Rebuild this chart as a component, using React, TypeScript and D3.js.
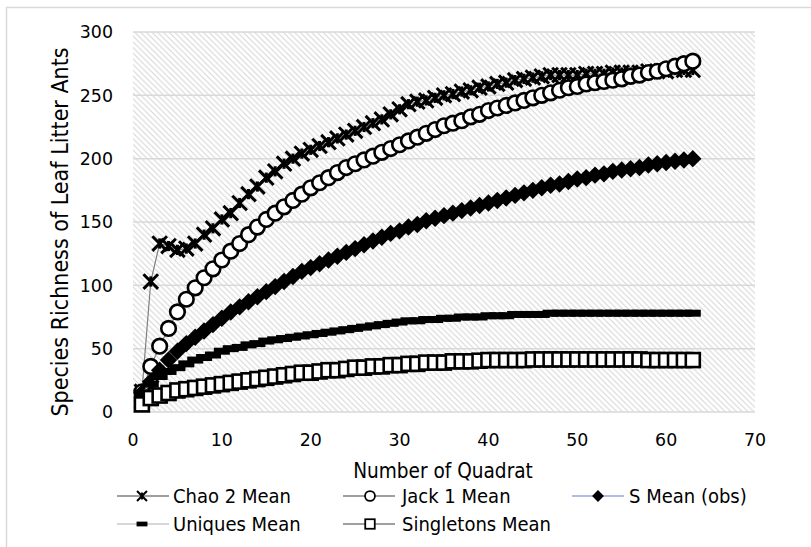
import * as d3 from 'd3';

const quadrats = d3.range(1, 64);

const chao2 = [16, 103, 133, 131, 128, 129, 133, 140, 145, 152, 157, 165, 172, 178, 185, 190, 196, 200, 204, 207,
  210, 213, 216, 219, 222, 225, 228, 231, 235, 239, 243, 245, 246, 248, 250, 251, 253, 254, 256, 257,
  259, 260, 262, 263, 264, 265, 266, 266, 266, 266, 267, 267, 267, 268, 268, 268, 268, 269, 269, 269,
  270, 270, 270];

const jack1 = [16, 36, 52, 66, 79, 89, 98, 106, 113, 120, 127, 133, 140, 146, 152, 157, 162, 167, 172, 177,
  181, 185, 189, 193, 196, 199, 202, 205, 208, 211, 214, 217, 220, 223, 226, 228, 230, 233, 235, 238,
  240, 242, 244, 246, 248, 250, 252, 254, 256, 257, 259, 260, 261, 262, 263, 265, 266, 268, 269, 271,
  273, 275, 277];

const sObs = [15, 24, 33, 41, 48, 54, 59, 64, 69, 74, 79, 83, 87, 91, 95, 99, 103, 107, 111, 114,
  117, 120, 123, 126, 129, 132, 135, 138, 141, 143, 146, 148, 151, 153, 155, 157, 159, 161, 163, 165,
  167, 169, 171, 173, 175, 177, 179, 180, 182, 184, 185, 187, 188, 190, 191, 192, 193, 195, 196, 197,
  198, 199, 200];

const uniques = [15, 22, 28, 32, 35, 38, 41, 43, 45, 48, 50, 51, 53, 54, 56, 57, 58, 59, 60, 61,
  62, 63, 64, 65, 66, 67, 68, 69, 70, 71, 72, 72, 73, 73, 74, 74, 75, 75, 75, 76,
  76, 76, 77, 77, 77, 77, 78, 78, 78, 78, 78, 78, 78, 78, 78, 78, 78, 78, 78, 78,
  78, 78, 78];

const singletons = [6, 11, 13, 15, 17, 18, 19, 20, 21, 22, 23, 24, 25, 26, 27, 28, 29, 30, 31, 31,
  32, 33, 33, 34, 35, 35, 36, 36, 37, 37, 38, 38, 39, 39, 39, 40, 40, 40, 40.5, 41,
  41, 41, 41, 41, 41.5, 41.5, 41.5, 41.5, 41.5, 41.5, 41.5, 41.5, 41.5, 41.5, 41.5, 41.5, 41.5, 41, 41, 41,
  41, 41, 41];

const yTicks = [0, 50, 100, 150, 200, 250, 300];
const xTicks = [0, 10, 20, 30, 40, 50, 60, 70];

type Kind = 'star' | 'circle' | 'diamond' | 'dash' | 'square';

const series: { name: string; values: number[]; kind: Kind; line: string }[] = [
  { name: 'Chao 2 Mean', values: chao2, kind: 'star', line: '#7f7f7f' },
  { name: 'Jack 1 Mean', values: jack1, kind: 'circle', line: '#7f7f7f' },
  { name: 'S Mean (obs)', values: sObs, kind: 'diamond', line: '#8faadc' },
  { name: 'Uniques Mean', values: uniques, kind: 'dash', line: '#c8c8c8' },
  { name: 'Singletons Mean', values: singletons, kind: 'square', line: '#7f7f7f' },
];

const font = '"DejaVu Sans", sans-serif';
const condensed = '"DejaVu Sans Condensed", "DejaVu Sans", sans-serif';

function Marker({ kind, x, y, s = 1 }: { kind: Kind; x: number; y: number; s?: number }) {
  if (kind === 'star') {
    const r = 7.3 * s;
    return (
      <g stroke="#000" strokeWidth={3 * s} strokeLinecap="butt">
        <line x1={x - r} y1={y - r} x2={x + r} y2={y + r} />
        <line x1={x - r} y1={y + r} x2={x + r} y2={y - r} />
        <line x1={x} y1={y - r * 0.7} x2={x} y2={y + r * 0.7} />
      </g>
    );
  }
  if (kind === 'circle') {
    return <circle cx={x} cy={y} r={7.3 * s} fill="#fff" stroke="#000" strokeWidth={2.6 * s} />;
  }
  if (kind === 'diamond') {
    const r = 8.7 * s;
    return <path d={`M${x},${y - r}L${x + r},${y}L${x},${y + r}L${x - r},${y}Z`} fill="#000" />;
  }
  if (kind === 'dash') {
    return <rect x={x - 8 * s} y={y - 3.5 * s} width={16 * s} height={7 * s} fill="#000" />;
  }
  const h = 7 * s;
  return <rect x={x - h} y={y - h} width={2 * h} height={2 * h} fill="#fff" stroke="#000" strokeWidth={2.6 * s} />;
}

export default function App() {
  const width = 811;
  const height = 547;
  const left = 133;
  const right = 755;
  const top = 32;
  const bottom = 412;

  const x = d3.scaleLinear().domain([0, 70]).range([left, right]);
  const y = d3.scaleLinear().domain([0, 300]).range([bottom, top]);

  const line = d3
    .line<number>()
    .x((_, i) => x(quadrats[i]))
    .y((v) => y(v));

  const legend = [
    { s: series[0], lx: 117, mx: 142, tx: 173, row: 0 },
    { s: series[1], lx: 343, mx: 370, tx: 402, row: 0 },
    { s: series[2], lx: 572, mx: 598, tx: 629, row: 0 },
    { s: series[3], lx: 117, mx: 142, tx: 173, row: 1 },
    { s: series[4], lx: 343, mx: 370, tx: 402, row: 1 },
  ];
  const rowY = [496, 524];

  return (
    <svg
      width={width}
      height={height}
      style={{ position: 'absolute', left: 0, top: 0, background: '#fff' }}
      fontFamily={font}
    >
      <defs>
        <pattern id="hatch" width="5.7" height="5.7" patternUnits="userSpaceOnUse">
          <path d="M0,0L5.7,5.7M-1,4.7L1,6.7M4.7,-1L6.7,1" stroke="#d4d4d4" strokeWidth="1" />
        </pattern>
        <clipPath id="plot">
          <rect x={left - 10} y={top - 12} width={right - left + 20} height={bottom - top + 24} />
        </clipPath>
      </defs>

      <rect x={6.5} y={7.5} width={830} height={560} fill="#fff" stroke="#d9d9d9" strokeWidth={1.5} />

      <rect x={left} y={top} width={right - left} height={bottom - top} fill="url(#hatch)" />

      {yTicks.map((t) => (
        <g key={t}>
          <line x1={left} x2={right} y1={y(t)} y2={y(t)} stroke="#d9d9d9" strokeWidth={1.5} />
          <text x={113} y={y(t)} dy="0.36em" textAnchor="end" fontSize={17.4} fill="#000">
            {t}
          </text>
        </g>
      ))}

      {xTicks.map((t) => (
        <text key={t} x={x(t)} y={446} textAnchor="middle" fontSize={17.4} fill="#000">
          {t}
        </text>
      ))}

      <text
        transform={`translate(60, ${(top + bottom) / 2 + 10}) rotate(-90)`}
        textAnchor="middle"
        dy="0.36em"
        fontFamily={condensed}
        fontStretch="condensed"
        fontSize={23}
        fill="#000"
      >
        Species Richness of Leaf Litter Ants
      </text>

      <text
        x={443}
        y={471}
        dy="0.36em"
        textAnchor="middle"
        fontFamily={condensed}
        fontStretch="condensed"
        fontSize={20.6}
        fill="#000"
      >
        Number of Quadrat
      </text>

      <g clipPath="url(#plot)">
        {series.map((s) => (
          <g key={s.name}>
            <path d={line(s.values) ?? ''} fill="none" stroke={s.line} strokeWidth={1.2} />
            {s.values.map((v, i) => (
              <Marker key={i} kind={s.kind} x={x(quadrats[i])} y={y(v)} />
            ))}
          </g>
        ))}
      </g>

      {legend.map((l) => (
        <g key={l.s.name}>
          <line x1={l.lx} x2={l.lx + 52} y1={rowY[l.row]} y2={rowY[l.row]} stroke={l.s.line} strokeWidth={1.5} />
          <Marker kind={l.s.kind} x={l.mx} y={rowY[l.row]} s={0.68} />
          <text
            x={l.tx}
            y={rowY[l.row]}
            dy="0.36em"
            fontFamily={condensed}
            fontStretch="condensed"
            fontSize={20}
            fill="#000"
          >
            {l.s.name}
          </text>
        </g>
      ))}
    </svg>
  );
}
